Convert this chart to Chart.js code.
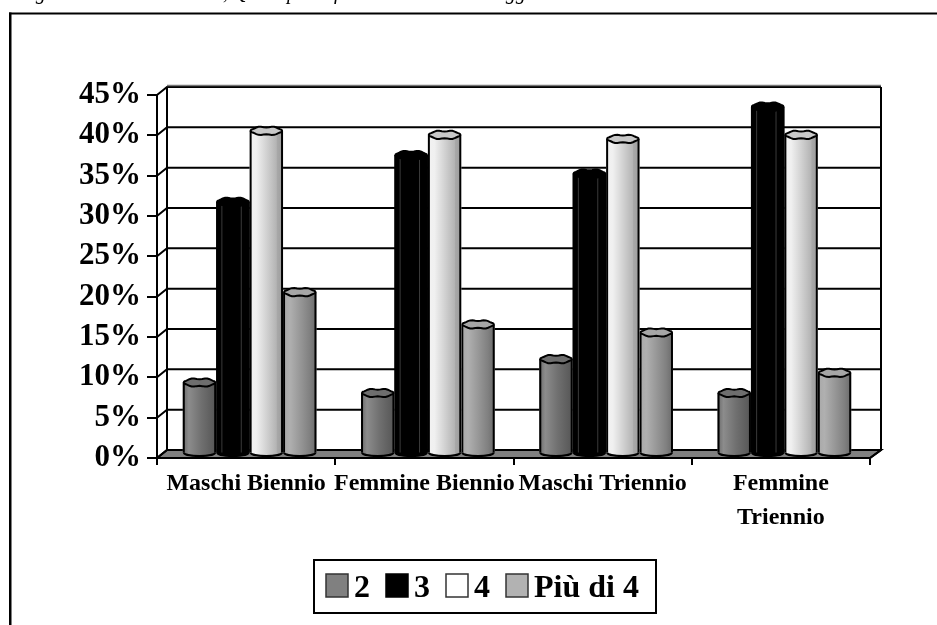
<!DOCTYPE html>
<html><head><meta charset="utf-8">
<style>html,body{margin:0;padding:0;background:#fff;overflow:hidden}#w{position:relative;width:937px;height:625px}</style>
<script src="https://cdn.jsdelivr.net/npm/chart.js@4"></script>
</head><body><div id="w"><canvas id="c" width="937" height="625"></canvas></div>
<script>
const categories = ["Maschi Biennio","Femmine Biennio","Maschi Triennio",["Femmine","Triennio"]];
const seriesNames = ["2","3","4","Più di 4"];
const due = [8.8,7.5,11.7,7.5];
const tre = [31.2,37,34.7,43];
const quattro = [40,39.5,39,39.5];
const piuDi4 = [20,16,15,10];
const seriesColors = ["#808080","#000000","#ffffff","#b2b2b2"];
const capColors = ["#6e6e6e","#000000","#c8c8c8","#a6a6a6"];
const shades = [
 [[0,"#6a6a6a"],[.18,"#8c8c8c"],[.55,"#707070"],[1,"#555555"]],
 [[0,"#000000"],[1,"#000000"]],
 [[0,"#f2f2f2"],[.2,"#f0f0f0"],[.8,"#b4b4b4"],[.82,"#a8a8a8"],[1,"#9c9c9c"]],
 [[0,"#a8a8a8"],[.2,"#b0b0b0"],[.8,"#808080"],[1,"#6a6a6a"]]
];
const titleText = "Figura 5 – Classe e sesso, Quale parte fa uso di internet in oggi";
const SERIF = '"Liberation Serif"';
const DX=10, DY=-8, BX=3.5, BY=-4.5;

function capPath(g,x,y,rx,ry){
  g.beginPath();
  for(let a=0;a<=360;a+=10){
    const t=a*Math.PI/180, k=1+0.16*Math.cos(6*t);
    const px=x+rx*Math.cos(t), py=y+ry*k*Math.sin(t);
    if(a===0) g.moveTo(px,py); else g.lineTo(px,py);
  }
  g.closePath();
}
const scene = {
  id:'scene',
  beforeDraw(chart){
    const g=chart.ctx;
    g.save();
    g.fillStyle='#fff';g.fillRect(0,0,chart.width,chart.height);
    g.fillStyle='#000';g.font='italic 20px '+SERIF;g.textBaseline='alphabetic';g.textAlign='left';
    g.fillText(titleText,18,-1);
    g.fillRect(9,12.5,chart.width,2);
    g.fillRect(9,12.5,2.5,chart.height);
    g.restore();
  },
  beforeDatasetsDraw(chart){
    const g=chart.ctx,y=chart.scales.y,a=chart.chartArea;
    const y0=y.getPixelForValue(0),yT=y.getPixelForValue(45);
    g.save();
    g.fillStyle='#808080';
    g.beginPath();g.moveTo(a.left,y0);g.lineTo(a.right,y0);g.lineTo(a.right+DX+1,y0+DY);g.lineTo(a.left+DX,y0+DY);g.closePath();g.fill();
    g.strokeStyle='#000';g.lineWidth=2;
    g.stroke();
    y.ticks.forEach(t=>{
      const p=y.getPixelForValue(t.value);
      g.beginPath();g.moveTo(a.left,p);g.lineTo(a.left+DX,p+DY);g.lineTo(a.right+DX+1,p+DY);g.stroke();
    });
    g.beginPath();g.moveTo(a.left+DX,yT+DY);g.lineTo(a.left+DX,y0+DY);g.stroke();
    g.beginPath();g.moveTo(a.right+DX+1,yT+DY);g.lineTo(a.right+DX+1,y0+DY);g.lineTo(a.right,y0);g.stroke();
    g.strokeStyle='#777';g.lineWidth=1.5;
    g.beginPath();g.moveTo(a.left+DX,yT+DY-1.5);g.lineTo(a.right+DX+1,yT+DY-1.5);g.stroke();
    g.restore();
    g.save();
    g.translate(BX,BY);
  },
  afterDatasetDraw(chart,args){
    const g=chart.ctx,i=args.index;
    const meta=chart.getDatasetMeta(i);
    meta.data.forEach(b=>{
      const L=b.x-b.width/2,w=b.width,ry=4;
      const gr=g.createLinearGradient(L,0,L+w,0);
      shades[i].forEach(s=>gr.addColorStop(s[0],s[1]));
      g.save();
      g.fillStyle=gr;
      g.fillRect(L+1,b.y,w-2,b.base-b.y);
      capPath(g,b.x,b.base,w/2-1,ry-0.5);g.fill();
      g.strokeStyle='#000';g.lineWidth=2;
      g.beginPath();g.moveTo(L+1,b.y);g.lineTo(L+1,b.base);g.moveTo(L+w-1,b.y);g.lineTo(L+w-1,b.base);g.stroke();
      g.beginPath();g.ellipse(b.x,b.base,w/2-1,ry-0.5,0,0,Math.PI);g.stroke();
      if(i===1){
        g.strokeStyle='#3a3a3a';g.lineWidth=1;
        g.beginPath();g.moveTo(L+w*.17,b.y+4);g.lineTo(L+w*.17,b.base);g.moveTo(L+w*.75,b.y+4);g.lineTo(L+w*.75,b.base);g.stroke();
      }
      g.fillStyle=capColors[i];
      capPath(g,b.x,b.y,w/2-1,ry);g.fill();
      g.strokeStyle='#000';g.lineWidth=2;g.stroke();
      g.restore();
    });
  },
  afterDatasetsDraw(chart){ chart.ctx.restore(); },
  afterDraw(chart){
    const g=chart.ctx;
    g.save();
    g.strokeStyle='#000';g.lineWidth=2;g.strokeRect(314,560,342,53);
    g.font='bold 32px '+SERIF;g.textBaseline='alphabetic';g.textAlign='left';
    let x=326;
    seriesNames.forEach((n,i)=>{
      g.fillStyle=seriesColors[i];g.fillRect(x,574,22,23);
      g.strokeStyle=i===1?'#000':'#333';g.lineWidth=1.5;g.strokeRect(x,574,22,23);
      g.fillStyle='#000';g.fillText(n,x+28,597);
      x+=60;
    });
    g.restore();
  }
};
new Chart(document.getElementById('c'),{
  type:'bar',
  data:{labels:categories,datasets:[due,tre,quattro,piuDi4].map((d,i)=>({
    label:seriesNames[i],data:d,backgroundColor:seriesColors[i],borderColor:'#000',borderWidth:0,
    barPercentage:1,categoryPercentage:0.75
  }))},
  plugins:[scene],
  options:{
    responsive:false,animation:false,
    layout:{padding:{left:0,right:67,top:95,bottom:0}},
    plugins:{legend:{display:false},title:{display:false},tooltip:{enabled:false}},
    scales:{
      x:{
        afterFit(s){s.height=167;},
        grid:{drawOnChartArea:false,drawTicks:true,tickLength:7,color:'#000',lineWidth:2},
        border:{color:'#000',width:2},
        ticks:{color:'#000',font:{family:SERIF,weight:'bold',size:24,lineHeight:1.42},maxRotation:0,autoSkip:false,padding:2}
      },
      y:{
        min:0,max:45,
        afterFit(s){s.width=157;},
        grid:{drawOnChartArea:false,drawTicks:true,tickLength:10,color:'#000',lineWidth:2},
        border:{color:'#000',width:2},
        ticks:{stepSize:5,color:'#000',font:{family:SERIF,weight:'bold',size:31},padding:6,callback:v=>v+'%'}
      }
    }
  }
});
</script></body></html>
